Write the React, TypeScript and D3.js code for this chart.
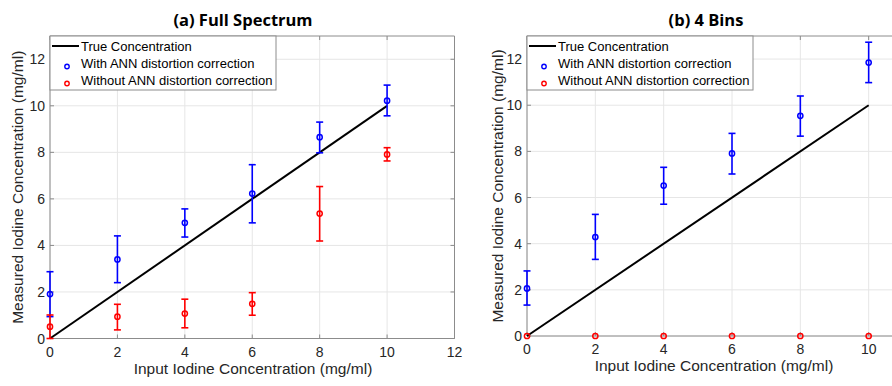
import React from "react";
import * as d3 from "d3";

const xs = [0, 2, 4, 6, 8, 10];
const trueLine = [0, 10];

// Panel (a) Full Spectrum
const aWith = [1.91, 3.4, 4.97, 6.23, 8.65, 10.22];
const aWithLo = [0.94, 2.4, 4.36, 4.97, 7.98, 9.57];
const aWithHi = [2.87, 4.41, 5.57, 7.47, 9.3, 10.89];
const aWithout = [0.51, 0.94, 1.07, 1.49, 5.37, 7.91];
const aWithoutLo = [0.0, 0.37, 0.46, 1.0, 4.19, 7.63];
const aWithoutHi = [1.01, 1.47, 1.69, 1.97, 6.53, 8.2];

// Panel (b) 4 Bins
const bWith = [2.06, 4.29, 6.52, 7.91, 9.54, 11.85];
const bWithLo = [1.34, 3.32, 5.71, 7.02, 8.66, 10.98];
const bWithHi = [2.82, 5.27, 7.31, 8.78, 10.4, 12.73];
const bWithout = [0, 0, 0, 0, 0, 0];

const xTicksA = [0, 2, 4, 6, 8, 10, 12];
const xTicksB = [0, 2, 4, 6, 8, 10];
const yTicks = [0, 2, 4, 6, 8, 10, 12];
const legendLabels = ["True Concentration", "With ANN distortion correction", "Without ANN distortion correction"];

const FONT = "'Liberation Sans', Arial, sans-serif";
const AX = "#262626";
const BLUE = "#0000ff";
const RED = "#ff0000";

type Series = { v: number[]; lo?: number[]; hi?: number[]; color: string };

function Panel({ left, right, top, bottom, xMax, xTicks, title, titleX, series, yLabelX, xLabelX, boxRight }: {
  left: number; right: number; top: number; bottom: number; xMax: number; xTicks: number[]; title: string; titleX: number;
  series: Series[]; yLabelX: number; xLabelX: number; boxRight: boolean;
}) {
  const x = d3.scaleLinear().domain([0, xMax]).range([left, right]);
  const y = d3.scaleLinear().domain([0, 13]).range([bottom, top]);
  const line = d3.line<number>().x((d) => x(d)).y((d) => y(d));
  const cap = 3.5;
  return (
    <g>
      <rect x={left} y={top} width={right - left} height={bottom - top} fill="#fff" />
      {xTicks.map((t) => (
        <line key={"gx" + t} x1={x(t)} x2={x(t)} y1={top} y2={bottom} stroke="#e6e6e6" strokeWidth={1} />
      ))}
      {yTicks.map((t) => (
        <line key={"gy" + t} x1={left} x2={right} y1={y(t)} y2={y(t)} stroke="#e6e6e6" strokeWidth={1} />
      ))}
      {/* axes box */}
      <line x1={left} x2={left} y1={top} y2={bottom} stroke="#8c8c8c" />
      <line x1={left} x2={right} y1={bottom} y2={bottom} stroke="#8c8c8c" />
      <line x1={left} x2={right} y1={top} y2={top} stroke="#8c8c8c" />
      {boxRight && <line x1={right} x2={right} y1={top} y2={bottom} stroke="#8c8c8c" />}
      {xTicks.map((t) => (
        <g key={"xt" + t}>
          <line x1={x(t)} x2={x(t)} y1={bottom} y2={bottom - 4} stroke="#8c8c8c" />
          <line x1={x(t)} x2={x(t)} y1={top} y2={top + 4} stroke="#8c8c8c" />
          <text x={x(t)} y={bottom + 18} textAnchor="middle" fontFamily={FONT} fontSize={14} fill={AX}>{t}</text>
        </g>
      ))}
      {yTicks.map((t) => (
        <g key={"yt" + t}>
          <line x1={left} x2={left + 4} y1={y(t)} y2={y(t)} stroke="#8c8c8c" />
          {boxRight && <line x1={right} x2={right - 4} y1={y(t)} y2={y(t)} stroke="#8c8c8c" />}
          <text x={left - 5} y={y(t) + 5} textAnchor="end" fontFamily={FONT} fontSize={14} fill={AX}>{t}</text>
        </g>
      ))}
      <text x={xLabelX} y={bottom + 35} textAnchor="middle" fontFamily={FONT} fontSize={15.5} fill={AX}>
        Input Iodine Concentration (mg/ml)
      </text>
      <text transform={`translate(${yLabelX},${(top + bottom) / 2}) rotate(-90)`} textAnchor="middle" fontFamily={FONT} fontSize={15.5} fill={AX}>
        Measured Iodine Concentration (mg/ml)
      </text>
      <text x={titleX} y={26} textAnchor="middle" fontFamily="'Open Sans', sans-serif" fontWeight="bold" fontSize={16.5} fill="#000">{title}</text>
      {/* true line */}
      <path d={line(trueLine) || ""} stroke="#000" strokeWidth={2} fill="none" />
      {/* series */}
      {series.map((s, si) => (
        <g key={"s" + si}>
          {xs.map((xv, i) => (
            <g key={i}>
              {s.lo && s.hi && (
                <g stroke={s.color} strokeWidth={1.6}>
                  <line x1={x(xv)} x2={x(xv)} y1={y(s.lo[i])} y2={y(s.hi[i])} />
                  <line x1={x(xv) - cap} x2={x(xv) + cap} y1={y(s.lo[i])} y2={y(s.lo[i])} />
                  <line x1={x(xv) - cap} x2={x(xv) + cap} y1={y(s.hi[i])} y2={y(s.hi[i])} />
                </g>
              )}
              <circle cx={x(xv)} cy={y(s.v[i])} r={2.6} fill="none" stroke={s.color} strokeWidth={1.5} />
            </g>
          ))}
        </g>
      ))}
      {/* legend */}
      <g>
        <rect x={left} y={top} width={226} height={54} fill="#fff" stroke="#8c8c8c" strokeWidth={1} />
        <line x1={left + 2} x2={left + 29} y1={top + 10} y2={top + 10} stroke="#000" strokeWidth={2} />
        <circle cx={left + 17} cy={top + 30.5} r={2.2} fill="none" stroke={BLUE} strokeWidth={1.4} />
        <circle cx={left + 17} cy={top + 47.5} r={2.2} fill="none" stroke={RED} strokeWidth={1.4} />
        {legendLabels.map((l, i) => (
          <text key={l} x={left + 31} y={top + 14.5 + i * 17} fontFamily={FONT} fontSize={13} fill="#000">{l}</text>
        ))}
      </g>
    </g>
  );
}

export default function App() {
  return (
    <svg width={892} height={386} style={{ display: "block", position: "absolute", left: 0, top: 0 }}>
      <rect width={892} height={386} fill="#fff" />
      <Panel left={50} right={454.5} top={36} bottom={338.5} xMax={12} xTicks={xTicksA} title="(a) Full Spectrum" titleX={243}
        yLabelX={23} xLabelX={253} boxRight={true}
        series={[
          { v: aWith, lo: aWithLo, hi: aWithHi, color: BLUE },
          { v: aWithout, lo: aWithoutLo, hi: aWithoutHi, color: RED },
        ]} />
      <Panel left={527} right={937} top={36} bottom={336} xMax={12} xTicks={xTicksB} title="(b) 4 Bins" titleX={706}
        yLabelX={503} xLabelX={714} boxRight={false}
        series={[
          { v: bWith, lo: bWithLo, hi: bWithHi, color: BLUE },
          { v: bWithout, color: RED },
        ]} />
    </svg>
  );
}
